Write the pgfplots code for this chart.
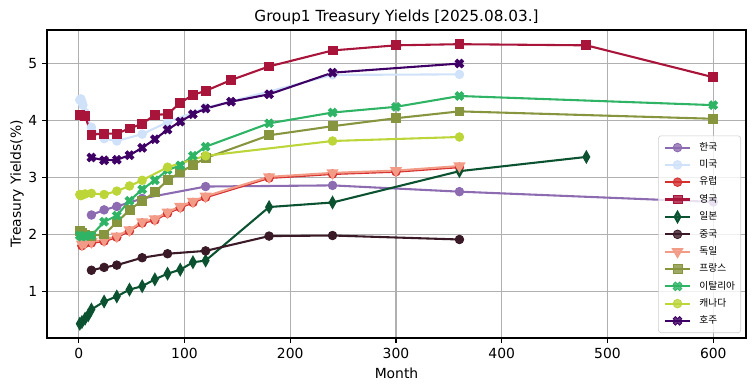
\documentclass[border=0pt]{standalone}
\usepackage{fontspec}
\setmainfont{DejaVu Sans}
\newfontfamily\kr{Noto Sans CJK KR}
\usepackage{pgfplots}
\pgfplotsset{compat=1.18}
\usetikzlibrary{plotmarks}

\definecolor{cKR}{HTML}{8C6BB1}
\definecolor{cUS}{HTML}{CFE2FA}
\definecolor{cEU}{HTML}{D62F2F}
\definecolor{cUK}{HTML}{A8143A}
\definecolor{cJP}{HTML}{0B5230}
\definecolor{cCN}{HTML}{3B1A27}
\definecolor{cDE}{HTML}{F29B86}
\definecolor{cFR}{HTML}{87953F}
\definecolor{cIT}{HTML}{2FB466}
\definecolor{cCA}{HTML}{BCD63A}
\definecolor{cAU}{HTML}{3F0066}
\definecolor{gridc}{HTML}{B0B0B0}

\pgfdeclareplotmark{Xf}{%
  \pgfpathmoveto{\pgfqpoint{0.5\pgfplotmarksize}{0pt}}%
  \pgfpathlineto{\pgfqpoint{\pgfplotmarksize}{-0.5\pgfplotmarksize}}%
  \pgfpathlineto{\pgfqpoint{0.5\pgfplotmarksize}{-\pgfplotmarksize}}%
  \pgfpathlineto{\pgfqpoint{0pt}{-0.5\pgfplotmarksize}}%
  \pgfpathlineto{\pgfqpoint{-0.5\pgfplotmarksize}{-\pgfplotmarksize}}%
  \pgfpathlineto{\pgfqpoint{-\pgfplotmarksize}{-0.5\pgfplotmarksize}}%
  \pgfpathlineto{\pgfqpoint{-0.5\pgfplotmarksize}{0pt}}%
  \pgfpathlineto{\pgfqpoint{-\pgfplotmarksize}{0.5\pgfplotmarksize}}%
  \pgfpathlineto{\pgfqpoint{-0.5\pgfplotmarksize}{\pgfplotmarksize}}%
  \pgfpathlineto{\pgfqpoint{0pt}{0.5\pgfplotmarksize}}%
  \pgfpathlineto{\pgfqpoint{0.5\pgfplotmarksize}{\pgfplotmarksize}}%
  \pgfpathlineto{\pgfqpoint{\pgfplotmarksize}{0.5\pgfplotmarksize}}%
  \pgfpathclose
  \pgfusepathqfillstroke}

\pgfplotsset{
  ser/.style={color=#1, line width=1.5pt, mark options={solid, fill=#1, draw=#1, line width=0.6pt}},
}

\begin{document}
\begin{tikzpicture}
\begin{axis}[
  at={(0,0)}, anchor=south west,
  scale only axis, width=503.3pt, height=221.8pt,
  xmin=-30, xmax=631, ymin=0.18, ymax=5.59,
  xtick={0,100,200,300,400,500,600},
  ytick={1,2,3,4,5},
  grid=major,
  grid style={color=gridc, line width=0.8pt},
  axis line style={line width=0.8pt, black},
  tick align=outside, tick pos=left,
  major tick length=3.5pt,
  tick style={line width=0.8pt, black},
  /pgf/number format/assume math mode=true,
  ticklabel style={font=\fontsize{10}{12}\selectfont},
  title={Group1 Treasury Yields [2025.08.03.]},
  title style={font=\fontsize{11}{13}\selectfont, at={(rel axis cs:0.5,1)}, anchor=south, inner sep=0pt, yshift=-2.6pt},
  xlabel={Month},
  xlabel style={font=\fontsize{10}{12}\selectfont, at={(rel axis cs:0.5,0)}, anchor=center, yshift=-25.5pt},
  ylabel={Treasury Yields(\%)},
  ylabel style={font=\fontsize{10}{12}\selectfont, yshift=-3.6pt},
  legend style={at={(0.9928,0.0162)}, anchor=south east,
    fill=white, fill opacity=0.8, text opacity=1, draw=black!20, rounded corners=2pt,
    font=\fontsize{7}{8}\selectfont\kr,
    inner xsep=4pt, inner ysep=5pt,
    nodes={inner sep=0pt, text height=5.5pt, text depth=1.5pt},
    row sep=5.45pt, column sep=6pt},
  legend cell align=left,
  legend image code/.code={\draw[mark repeat=2, mark phase=2] plot coordinates {(0pt,0pt) (9pt,0pt) (18pt,0pt)};},
]
% Korea
\addplot[ser=cKR, mark=*, mark size=3.1pt] coordinates {
(12,2.34) (24,2.43) (36,2.49) (60,2.63) (120,2.84) (240,2.86) (360,2.75) (600,2.57)};
\addlegendentry{한국}
% US
\addplot[ser=cUS, mark=*, mark size=3.1pt] coordinates {
(1,4.36) (2,4.38) (3,4.33) (4,4.27) (6,4.14) (12,3.88) (24,3.68) (36,3.64) (60,3.76) (84,3.97) (120,4.22) (240,4.80) (360,4.81)};
\addlegendentry{미국}
% Europe
\addplot[ser=cEU, mark=*, mark size=3.1pt] coordinates {
(3,1.80) (6,1.84) (12,1.85) (24,1.88) (36,1.95) (48,2.06) (60,2.20) (72,2.25) (84,2.37) (96,2.47) (108,2.56) (120,2.65) (180,2.99) (240,3.06) (300,3.10) (360,3.18)};
\addlegendentry{유럽}
% UK
\addplot[ser=cUK, mark=square*, mark size=3.2pt] coordinates {
(1,4.10) (6,4.08) (12,3.75) (24,3.77) (36,3.77) (48,3.86) (60,3.94) (72,4.10) (84,4.11) (96,4.31) (108,4.45) (120,4.52) (144,4.71) (180,4.95) (240,5.23) (300,5.32) (360,5.34) (480,5.32) (600,4.76)};
\addlegendentry{영국}
% Japan
\addplot[ser=cJP, mark=diamond*, mark size=3.6pt, mark options={xscale=0.75}] coordinates {
(1,0.43) (3,0.46) (6,0.52) (9,0.58) (12,0.68) (24,0.82) (36,0.91) (48,1.03) (60,1.09) (72,1.21) (84,1.31) (96,1.38) (108,1.51) (120,1.54) (180,2.48) (240,2.56) (360,3.11) (480,3.36)};
\addlegendentry{일본}
% China
\addplot[ser=cCN, mark=*, mark size=3.1pt] coordinates {
(12,1.37) (24,1.42) (36,1.46) (60,1.59) (84,1.66) (120,1.71) (180,1.97) (240,1.98) (360,1.91)};
\addlegendentry{중국}
% Germany
\addplot[ser=cDE, mark=triangle*, mark size=3.6pt, mark options={rotate=180}] coordinates {
(3,1.83) (6,1.86) (12,1.87) (24,1.90) (36,1.97) (48,2.08) (60,2.22) (72,2.27) (84,2.39) (96,2.49) (108,2.58) (120,2.67) (180,3.01) (240,3.08) (300,3.12) (360,3.20)};
\addlegendentry{독일}
% France
\addplot[ser=cFR, mark=square*, mark size=3.2pt] coordinates {
(1,2.06) (3,2.02) (6,1.99) (12,1.98) (24,2.00) (36,2.21) (48,2.43) (60,2.59) (72,2.74) (84,2.95) (96,3.09) (108,3.22) (120,3.34) (180,3.74) (240,3.90) (300,4.04) (360,4.16) (600,4.03)};
\addlegendentry{프랑스}
% Italy
\addplot[ser=cIT, mark=Xf, mark size=3.1pt] coordinates {
(1,1.98) (3,1.96) (6,1.97) (12,1.98) (24,2.22) (36,2.33) (48,2.59) (60,2.79) (72,2.95) (84,3.13) (96,3.21) (108,3.38) (120,3.54) (180,3.95) (240,4.14) (300,4.24) (360,4.43) (600,4.27)};
\addlegendentry{이탈리아}
% Canada
\addplot[ser=cCA, mark=*, mark size=3.1pt] coordinates {
(1,2.70) (2,2.68) (3,2.69) (6,2.71) (12,2.72) (24,2.70) (36,2.76) (48,2.85) (60,2.95) (84,3.18) (120,3.38) (240,3.64) (360,3.71)};
\addlegendentry{캐나다}
% Australia
\addplot[ser=cAU, mark=Xf, mark size=3.1pt] coordinates {
(12,3.35) (24,3.30) (36,3.31) (48,3.39) (60,3.52) (72,3.67) (84,3.84) (96,3.98) (108,4.11) (120,4.21) (144,4.33) (180,4.46) (240,4.84) (360,5.00)};
\addlegendentry{호주}
\end{axis}
\pgfresetboundingbox
\path[use as bounding box] (-33.84pt,-38.16pt) rectangle (509.76pt,243.36pt);
\end{tikzpicture}
\end{document}
